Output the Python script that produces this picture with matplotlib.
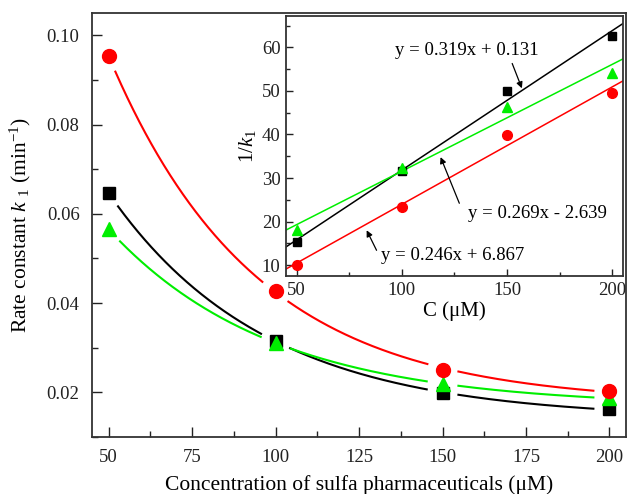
import numpy as np
import matplotlib
matplotlib.use("Agg")
import matplotlib.pyplot as plt
from matplotlib.ticker import MultipleLocator

plt.rcParams['font.family'] = ['Liberation Serif', 'DejaVu Serif']
plt.rcParams['mathtext.fontset'] = 'custom'
plt.rcParams['mathtext.rm'] = 'Liberation Serif'
plt.rcParams['mathtext.it'] = 'Liberation Serif:italic'

# ---- data ----
conc = [50, 100, 150, 200]
k_black = [0.0646, 0.0315, 0.0199, 0.0162]
k_red = [0.0953, 0.0426, 0.0251, 0.0203]
k_green = [0.0565, 0.0311, 0.0219, 0.0187]

inv_black = [15.2, 31.6, 50.0, 62.5]
inv_red = [10.1, 23.3, 39.8, 49.6]
inv_green = [18.0, 32.2, 46.4, 54.2]

eq_black = "y = 0.319x + 0.131"
eq_mid = "y = 0.269x - 2.639"
eq_low = "y = 0.246x + 6.867"

main_xticks = [50, 75, 100, 125, 150, 175, 200]
main_yticks = [0.02, 0.04, 0.06, 0.08, 0.10]
inset_xticks = [50, 100, 150, 200]
inset_yticks = [10, 20, 30, 40, 50, 60]

RED = '#ff0000'
GREEN = '#00ee00'
BLACK = '#000000'

fig = plt.figure(figsize=(6.28, 4.94), dpi=100)
ax = fig.add_axes([0.1465, 0.1154, 0.8505, 0.8583])
ax.set_xlim(45, 205)
ax.set_ylim(0.01, 0.105)

def expfit(x, y):
    x = np.asarray(x, float); y = np.asarray(y, float)
    best = None
    for t in np.linspace(5, 300, 3000):
        X = np.column_stack([np.ones_like(x), np.exp(-x / t)])
        coef, res, *_ = np.linalg.lstsq(X, y, rcond=None)
        r = np.sum((X @ coef - y) ** 2)
        if best is None or r < best[0]:
            best = (r, t, coef)
    _, t, coef = best
    return lambda xx: coef[0] + coef[1] * np.exp(-np.asarray(xx) / t)

xs = np.linspace(50, 200, 1500)
series = [(k_black, BLACK, 's', 8.5), (k_green, GREEN, '^', 10), (k_red, RED, 'o', 10)]
for ys, col, mk, ms in series:
    f = expfit(conc, ys)
    yy = f(xs)
    # break the curve near its own markers (display space)
    pts = ax.transData.transform(np.column_stack([xs, yy]))
    mpts = ax.transData.transform(np.column_stack([conc, ys]))
    d = np.min(np.hypot(pts[:, None, 0] - mpts[None, :, 0], pts[:, None, 1] - mpts[None, :, 1]), axis=1)
    yy_m = np.where(d < 16, np.nan, yy)
    ax.plot(xs, yy_m, color=col, lw=1.5, zorder=2)
for ys, col, mk, ms in series:
    ax.plot(conc, ys, linestyle='none', marker=mk, color=col, ms=ms, zorder=3)

ax.set_xticks(main_xticks)
ax.set_yticks(main_yticks)
ax.set_yticklabels([f"{v:.2f}" for v in main_yticks])
ax.xaxis.set_minor_locator(MultipleLocator(12.5))
ax.yaxis.set_minor_locator(MultipleLocator(0.01))
ax.tick_params(which='both', direction='in', top=False, right=False, labelsize=13.5, colors='#222222')
ax.tick_params(which='major', length=7, width=1.0, pad=9)
ax.tick_params(which='minor', length=4, width=1.0)
for s in ax.spines.values():
    s.set_linewidth(1.3)
    s.set_color('#333333')
ax.set_xlabel("Concentration of sulfa pharmaceuticals (\u03bcM)", fontsize=15.5, labelpad=6)
ax.set_ylabel("Rate constant $k$ $_{\\mathit{1}}$ (min$^{-1}$)", fontsize=15.5, labelpad=10)

# ---- inset ----
ins = fig.add_axes([0.4554, 0.4413, 0.5366, 0.5263])
ins.set_xlim(45, 205)
ins.set_ylim(7.5, 67.2)
xl = np.array([45, 205])
for ys, col, mk, ms in [(inv_black, BLACK, 's', 6), (inv_green, GREEN, '^', 7.5), (inv_red, RED, 'o', 7)]:
    p = np.polyfit(conc, ys, 1)
    ins.plot(xl, np.polyval(p, xl), color=col, lw=1.1, zorder=2)
    ins.plot(conc, ys, linestyle='none', marker=mk, color=col, ms=ms, zorder=3)

ins.set_xticks(inset_xticks)
ins.set_yticks(inset_yticks)
ins.xaxis.set_minor_locator(MultipleLocator(25))
ins.yaxis.set_minor_locator(MultipleLocator(5))
ins.tick_params(which='both', direction='in', labelsize=13.5, colors='#222222')
ins.tick_params(which='major', length=5, width=1.0, pad=4)
ins.tick_params(which='minor', length=3, width=1.0)
for s in ins.spines.values():
    s.set_linewidth(1.3)
    s.set_color('#333333')
ins.set_xlabel("C (\u03bcM)", fontsize=15, labelpad=2)
ins.set_ylabel("1/$k_{\\mathit{1}}$", fontsize=15, labelpad=3)

arrow = dict(arrowstyle='-|>', color='black', lw=0.9, mutation_scale=9, shrinkA=0, shrinkB=0)
ins.text(130.7, 59.3, eq_black, fontsize=13.5, ha='center', va='center')
ins.annotate("", xy=(157, 50.6), xytext=(152.4, 56.3), arrowprops=arrow)
ins.text(164.3, 21.9, eq_mid, fontsize=13.5, ha='center', va='center')
ins.annotate("", xy=(118.4, 34.8), xytext=(127.3, 24.2), arrowprops=arrow)
ins.text(124.0, 12.3, eq_low, fontsize=13.5, ha='center', va='center')
ins.annotate("", xy=(83.3, 18.0), xytext=(88.0, 13.4), arrowprops=arrow)

fig.savefig("out.png", dpi=100)
